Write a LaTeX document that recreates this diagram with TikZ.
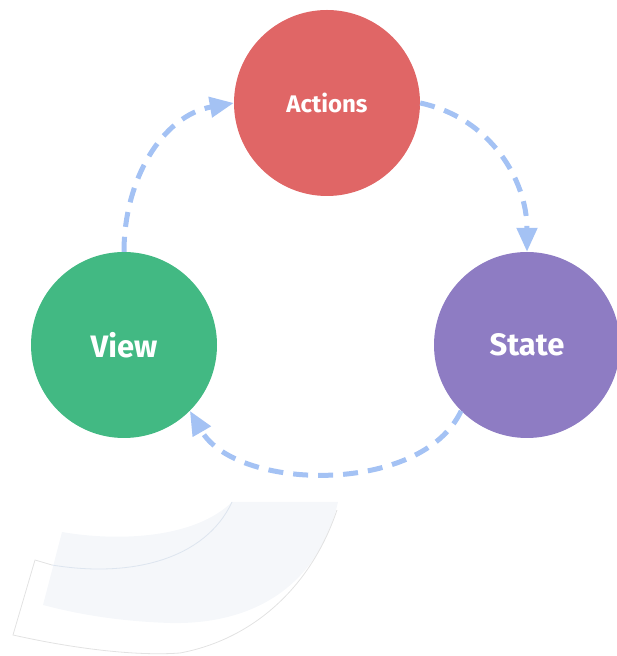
\documentclass[tikz,border=0pt]{standalone}
\usepackage{fontspec}
\setmainfont{Fira Sans}
\usetikzlibrary{arrows.meta}
\definecolor{actred}{HTML}{E06666}
\definecolor{viewgreen}{HTML}{42B983}
\definecolor{statepurple}{HTML}{8E7CC3}
\definecolor{flowblue}{HTML}{A4C2F4}
\definecolor{bandfill}{HTML}{F5F7FA}
\definecolor{bandline}{HTML}{DDE5EF}
\definecolor{bandedge}{HTML}{E2E2E2}
\tikzset{
  bubble/.style={circle, minimum size=186pt, inner sep=0pt, text=white, font=\bfseries},
  flow/.style={draw=flowblue, line width=5pt, dash pattern=on 15pt off 10pt,
    -{Triangle[length=24pt,width=20pt,fill=flowblue]}},
}
\begin{document}
\begin{tikzpicture}[x=1pt,y=1pt]
\useasboundingbox (0,0) rectangle (617,656);
% faint decoration bottom-left
\fill[bandfill] (62,124) .. controls (120,114) and (195,118) .. (232,154) -- (338,154)
  .. controls (320,76) and (260,31) .. (170,33) .. controls (110,35) and (70,44) .. (43,51) -- cycle;
\draw[bandline, line width=0.8pt] (52,91) .. controls (130,78) and (205,96) .. (232,154);
\draw[bandedge, line width=0.8pt] (52,91) -- (35,96) -- (13,21) .. controls (80,6) and (140,0) .. (180,3)
  .. controls (250,16) and (310,66) .. (337,146);
% nodes
\node[bubble, fill=actred, font=\bfseries\fontsize{24}{28}\selectfont] (actions) at (327,553) {Actions};
\node[bubble, fill=viewgreen, font=\bfseries\fontsize{31}{36}\selectfont] (view) at (124,311) {View};
\node[bubble, fill=statepurple, font=\bfseries\fontsize{31}{36}\selectfont] (state) at (527,311) {State};
% connectors
\draw[flow] (view.north) to[out=90,in=190] (actions.west);
\draw[flow] (actions.east) to[out=-12,in=90] (state.north);
\draw[flow] (state.225) to[out=245,in=-60,looseness=0.88] (view.-45);
\end{tikzpicture}
\end{document}
